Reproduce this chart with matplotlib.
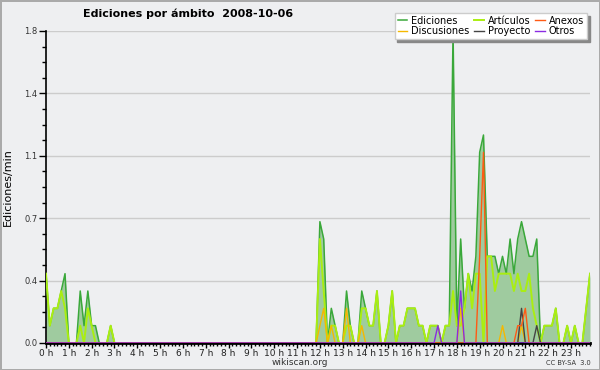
import numpy as np
import matplotlib
matplotlib.use("Agg")
import matplotlib.pyplot as plt
from matplotlib.ticker import AutoMinorLocator, FixedLocator, MultipleLocator

# ediciones por minuto, tramos de 10 minutos (6 por hora)
ediciones = [
    0.4, 0.1, 0.2, 0.2, 0.3, 0.4,   # 0 h
    0, 0, 0, 0.3, 0.1, 0.3,         # 1 h
    0.1, 0.1, 0, 0, 0, 0.1,         # 2 h
] + [0] * 54 + [                    # 3 h - 11 h
    0.7, 0.6, 0, 0.2, 0.1, 0,       # 12 h
    0, 0.3, 0.1, 0, 0, 0.3,         # 13 h
    0.2, 0.1, 0.1, 0.3, 0, 0,       # 14 h
    0.1, 0.3, 0, 0.1, 0.1, 0.2,     # 15 h
    0.2, 0.2, 0.1, 0.1, 0, 0.1,     # 16 h
    0.1, 0.1, 0, 0.1, 0.1, 1.8,     # 17 h
    0.1, 0.6, 0.2, 0.4, 0.3, 0.5,   # 18 h
    1.1, 1.2, 0.5, 0.5, 0.5, 0.4,   # 19 h
    0.5, 0.4, 0.6, 0.4, 0.6, 0.7,   # 20 h
    0.6, 0.5, 0.5, 0.6, 0, 0.1,     # 21 h
    0.1, 0.1, 0.2, 0, 0, 0.1,       # 22 h
    0, 0.1, 0, 0, 0.2, 0.4,         # 23 h
]

articulos = [
    0.4, 0.1, 0.2, 0.2, 0.3, 0.2,
    0, 0, 0, 0.1, 0, 0.2,
    0.1, 0, 0, 0, 0, 0.1,
] + [0] * 54 + [
    0.6, 0.3, 0, 0.1, 0.1, 0,
    0, 0.1, 0.1, 0, 0, 0.2,
    0.2, 0.1, 0.1, 0.3, 0, 0,
    0.1, 0.3, 0, 0.1, 0.1, 0.2,
    0.2, 0.2, 0.1, 0.1, 0, 0.1,
    0.1, 0.1, 0, 0.1, 0.1, 0.3,
    0.1, 0.1, 0.2, 0.4, 0.2, 0.4,
    0.4, 0, 0.5, 0.5, 0.3, 0.4,
    0.4, 0.4, 0.4, 0.3, 0.4, 0.3,
    0.3, 0.4, 0.2, 0.1, 0, 0.1,
    0.1, 0.1, 0.2, 0, 0, 0.1,
    0, 0.1, 0, 0, 0.2, 0.4,
]

# series casi vacias: {tramo: valor}
discusiones = {72: 0.1, 73: 0.2, 75: 0.1, 79: 0.2, 83: 0.1, 109: 0.2, 120: 0.1, 125: 0.1}
proyecto = {125: 0.2, 129: 0.1}
anexos = {114: 0.5, 115: 1.1, 124: 0.1, 125: 0.1, 126: 0.2}
otros = {103: 0.1, 109: 0.3}

n = len(ediciones)
horas = [f"{h} h" for h in range(24)]


def completar(d):
    v = np.zeros(n)
    for k, val in d.items():
        v[k] = val
    return v


x = np.arange(n)
bg = "#eeeff1"

fig = plt.figure(figsize=(6, 3.7), dpi=100, facecolor=bg,
                 edgecolor="#aaaaaa", linewidth=2)
ax = fig.add_axes([46 / 600, 1 - 343 / 370, 544 / 600, 312 / 370])
ax.set_facecolor(bg)

ax.fill_between(x, ediciones, color="#9fcb9f", lw=0, zorder=2)
ax.plot(x, ediciones, color="#3aa83a", lw=1.1, zorder=3, label="Ediciones")
ax.plot(x, articulos, color="#aaee11", lw=1.4, zorder=4, label="Artículos")
ax.plot(x, completar(discusiones), color="#f5b800", lw=1.0, zorder=5, label="Discusiones")
ax.plot(x, completar(proyecto), color="#444444", lw=1.0, zorder=5, label="Proyecto")
ax.plot(x, completar(anexos), color="#ff5a14", lw=1.0, zorder=5, label="Anexos")
ax.plot(x, completar(otros), color="#8a2be2", lw=1.0, zorder=5, label="Otros")

ax.set_xlim(0, n - 1)
ax.set_ylim(0, 1.8)
yt = np.linspace(0, 1.8, 6)
ax.set_yticks(yt)
ax.set_yticklabels([f"{v:.1f}" for v in yt], fontsize=6, color="#333333")
ax.yaxis.set_minor_locator(AutoMinorLocator(4))
ax.xaxis.set_major_locator(FixedLocator(np.arange(0, n, 6)))
ax.set_xticklabels(horas, fontsize=6.5, color="#222222")
ax.xaxis.set_minor_locator(MultipleLocator(1))
ax.tick_params(axis="y", which="major", length=5, width=1, pad=1)
ax.tick_params(axis="y", which="minor", length=3, width=1)
ax.tick_params(axis="x", which="major", length=3.5, width=1, pad=0.5)
ax.tick_params(axis="x", which="minor", length=2.5, width=1)
ax.grid(axis="y", color="#cccccc", lw=1, zorder=1)
ax.set_axisbelow(True)

for s in ["top", "right"]:
    ax.spines[s].set_visible(False)
ax.spines["left"].set_linewidth(1.2)
ax.spines["bottom"].set_linewidth(2)

ax.set_ylabel("Ediciones/min", fontsize=8, labelpad=8)

fig.text(0.313, 0.963, "Ediciones por ámbito  2008-10-06", ha="center", va="center",
         fontsize=8, fontweight="bold")
fig.text(0.5, 0.02, "wikiscan.org", ha="center", va="center", fontsize=6.5, color="#333333")
fig.text(0.985, 0.02, "CC BY-SA  3.0", ha="right", va="center", fontsize=4.8, color="#333333")

h, l = ax.get_legend_handles_labels()
orden = [0, 2, 1, 3, 4, 5]
leg = fig.legend([h[i] for i in orden], [l[i] for i in orden], ncol=3,
                 loc="upper right", bbox_to_anchor=(592 / 600, 1 - 8 / 370),
                 fontsize=7, handlelength=1.0, handletextpad=0.4, columnspacing=0.5,
                 labelspacing=0.05, borderpad=0.3, fancybox=False,
                 facecolor="white", edgecolor="#cccccc", framealpha=1,
                 shadow={"color": "#888888", "alpha": 1})

fig.savefig("out.png", dpi=100, facecolor=fig.get_facecolor(), edgecolor=fig.get_edgecolor())
